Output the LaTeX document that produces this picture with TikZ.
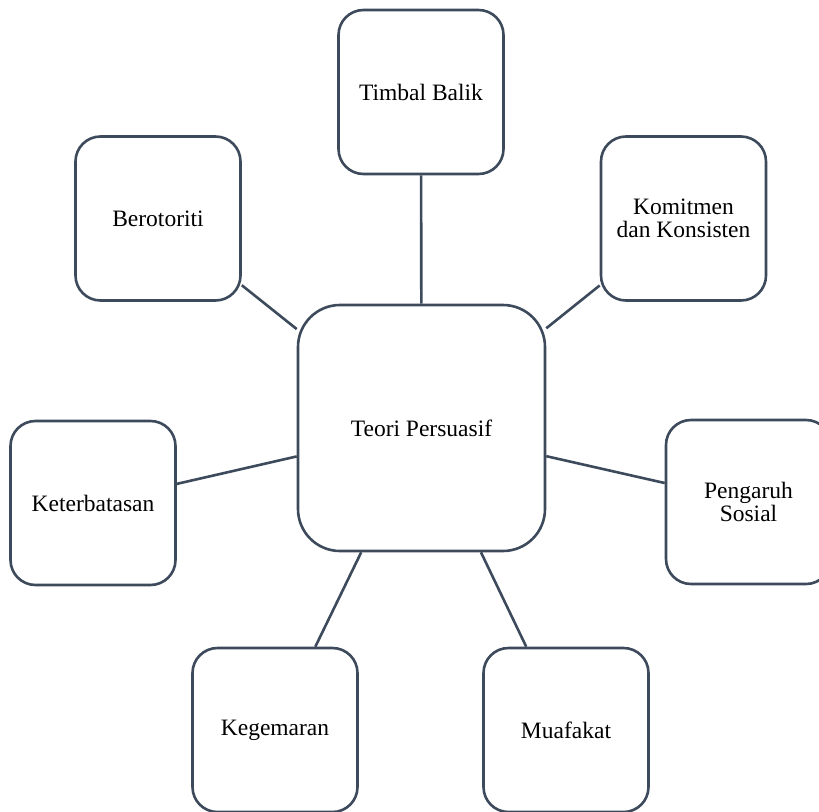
\documentclass[tikz,border=0pt]{standalone}
\usepackage{fontspec}
\setmainfont{Liberation Serif}
\definecolor{edge}{HTML}{3D4A5C}
\begin{document}
\begin{tikzpicture}[x=1pt,y=1pt,
  box/.style={draw=edge, line width=2.6pt, fill=white, rounded corners=25pt,
    minimum width=165pt, minimum height=164pt, align=center, inner sep=0pt,
    font=\fontsize{23.5}{23.5}\selectfont},
  hub/.style={box, rounded corners=42pt, minimum width=247pt, minimum height=246pt},
  link/.style={draw=edge, line width=2.6pt}]
\useasboundingbox (0,-811) rectangle (819,0);
\node[hub] (c) at (421.5,-428) {Teori Persuasif};
\node[box] (tb) at (421,-92) {Timbal Balik};
\node[box] (be) at (158,-218.5) {Berotoriti};
\node[box] (ko) at (683.5,-218.5) {Komitmen\\dan Konsisten};
\node[box] (ke) at (93,-503) {Keterbatasan};
\node[box] (ps) at (748.5,-502) {Pengaruh\\Sosial};
\node[box] (kg) at (275,-730) {Kegemaran};
\node[box] (mu) at (566,-730) {Muafakat};
\foreach \n in {tb,be,ko,ke,ps,kg,mu} \draw[link] (\n) -- (c);
\end{tikzpicture}
\end{document}
